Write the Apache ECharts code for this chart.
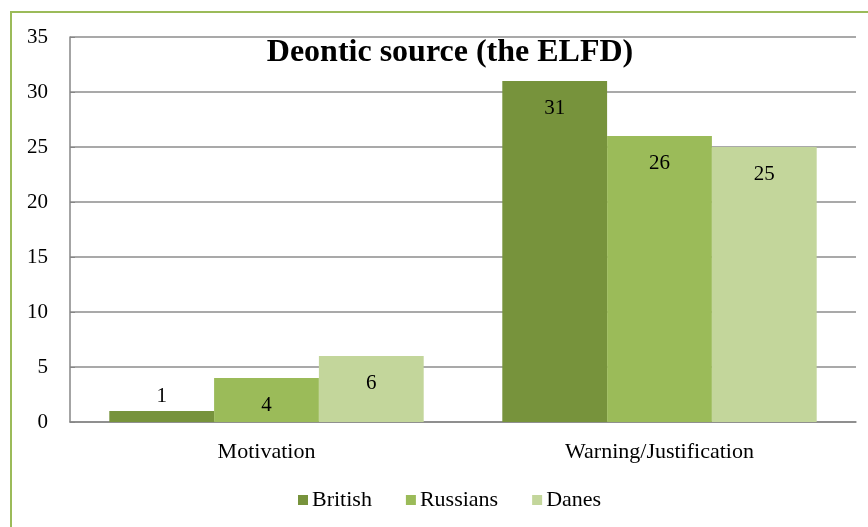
<!DOCTYPE html>
<html><head><meta charset="utf-8">
<script src="https://cdn.jsdelivr.net/npm/echarts@6/dist/echarts.min.js"></script>
<style>html,body{margin:0;padding:0;background:#fff}#c{width:868px;height:527px}</style>
</head><body><div id="c"></div>
<script>
const categories = ['Motivation', 'Warning/Justification'];
const seriesNames = ['British', 'Russians', 'Danes'];
const british = [1, 31];
const russians = [4, 26];
const danes = [6, 25];
const colors = ['#77933C', '#9BBB59', '#C3D69B'];
const FONT = '"Liberation Serif", "Times New Roman", serif';

const values = [british, russians, danes];
const chart = echarts.init(document.getElementById('c'));
chart.setOption({
  animation: false,
  graphic: [{type: 'rect', shape: {x: 11, y: 12, width: 900, height: 600}, style: {fill: 'none', stroke: '#9BBB59', lineWidth: 2}, silent: true, z: -1}],
  title: {text: 'Deontic source (the ELFD)', left: 445, textAlign: 'center', top: 32,
    textStyle: {fontFamily: FONT, fontWeight: 'bold', fontSize: 32, color: '#000'}},
  grid: {left: 70, right: 12, top: 37, bottom: 105},
  legend: {top: 484, left: 293, itemWidth: 10, itemHeight: 10, itemGap: 34, icon: 'rect',
    textStyle: {fontFamily: FONT, fontSize: 22, color: '#000', padding: [0, 0, 0, -1]}, data: seriesNames},
  xAxis: {type: 'category', data: categories,
    axisLine: {lineStyle: {color: '#868686', width: 1.5}}, axisTick: {show: false},
    axisLabel: {fontFamily: FONT, fontSize: 22, color: '#000', margin: 19}},
  yAxis: {type: 'value', min: 0, max: 35, interval: 5,
    axisLine: {show: true, lineStyle: {color: '#868686', width: 1.5}},
    axisTick: {show: true, inside: true, length: 5, lineStyle: {color: '#868686'}},
    splitLine: {lineStyle: {color: '#8c8c8c', width: 1.5}},
    axisLabel: {fontFamily: FONT, fontSize: 21, color: '#000', margin: 22}},
  series: seriesNames.map((n, i) => ({
    name: n, type: 'bar', barGap: '0%', barCategoryGap: '20%',
    itemStyle: {color: colors[i]},
    label: {show: true, position: 'insideTop', distance: 17, fontFamily: FONT, fontSize: 21, color: '#000'},
    data: values[i].map(v => v < 3 ? {value: v, label: {position: 'top', distance: 4}} : v)
  }))
});
</script></body></html>
